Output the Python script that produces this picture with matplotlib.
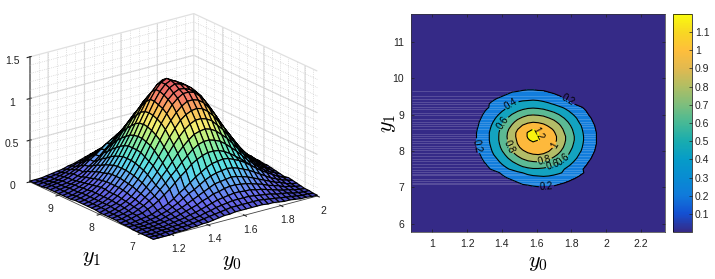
import numpy as np
import matplotlib
matplotlib.use("Agg")
import matplotlib.pyplot as plt
from matplotlib.colors import LinearSegmentedColormap, Normalize
from matplotlib.cm import ScalarMappable
from matplotlib.patches import Rectangle

plt.rcParams['font.family'] = ['Liberation Sans', 'DejaVu Sans']
plt.rcParams['mathtext.fontset'] = 'cm'

# grid values
y0_vals = [1.10, 1.13, 1.16, 1.19, 1.22, 1.25, 1.28, 1.31, 1.34, 1.37, 1.40, 1.43, 1.46, 1.49, 1.52, 1.55,
           1.58, 1.61, 1.64, 1.67, 1.70, 1.73, 1.76, 1.79, 1.82, 1.85, 1.88, 1.91, 1.94, 1.97, 2.00]
y1_vals = [6.7, 6.8, 6.9, 7.0, 7.1, 7.2, 7.3, 7.4, 7.5, 7.6, 7.7, 7.8, 7.9, 8.0, 8.1, 8.2,
           8.3, 8.4, 8.5, 8.6, 8.7, 8.8, 8.9, 9.0, 9.1, 9.2, 9.3, 9.4, 9.5, 9.6, 9.7]
density = [
    [.00,.00,.00,.00,.01,.01,.01,.02,.02,.03,.03,.04,.05,.06,.06,.07,.07,.07,.07,.07,.07,.06,.06,.05,.04,.04,.03,.02,.02,.01,.01],
    [.00,.00,.00,.01,.01,.01,.02,.02,.03,.04,.05,.06,.07,.08,.09,.10,.10,.10,.10,.10,.10,.09,.08,.07,.06,.05,.04,.03,.02,.02,.01],
    [.00,.00,.00,.01,.01,.02,.02,.03,.04,.05,.06,.08,.09,.11,.12,.13,.14,.14,.14,.14,.13,.12,.11,.10,.08,.07,.06,.04,.03,.02,.02],
    [.00,.00,.01,.01,.01,.02,.03,.04,.05,.07,.08,.10,.12,.14,.16,.17,.18,.19,.19,.18,.18,.16,.15,.13,.11,.09,.07,.06,.04,.03,.02],
    [.00,.01,.01,.01,.02,.03,.04,.05,.07,.09,.11,.13,.16,.18,.21,.22,.24,.25,.25,.24,.23,.21,.19,.17,.14,.12,.10,.07,.06,.04,.03],
    [.00,.01,.01,.02,.02,.03,.05,.07,.09,.11,.14,.17,.20,.23,.26,.29,.30,.31,.32,.31,.29,.27,.24,.21,.18,.15,.12,.10,.07,.05,.04],
    [.01,.01,.01,.02,.03,.04,.06,.08,.11,.14,.18,.22,.25,.29,.33,.36,.38,.39,.40,.39,.37,.34,.31,.27,.23,.19,.15,.12,.09,.07,.05],
    [.01,.01,.02,.03,.04,.05,.08,.10,.13,.17,.22,.26,.31,.36,.40,.44,.47,.48,.49,.48,.45,.42,.38,.33,.28,.23,.19,.15,.11,.08,.06],
    [.01,.02,.03,.05,.06,.09,.12,.16,.21,.26,.32,.38,.43,.49,.53,.56,.58,.58,.57,.54,.50,.45,.40,.34,.28,.23,.18,.14,.10,.07,.05],
    [.02,.02,.04,.05,.08,.11,.15,.19,.25,.31,.38,.44,.51,.57,.63,.67,.69,.69,.67,.64,.59,.53,.47,.40,.33,.27,.21,.16,.12,.09,.06],
    [.02,.03,.04,.06,.09,.12,.17,.22,.28,.36,.43,.51,.59,.66,.72,.77,.79,.80,.78,.74,.68,.62,.54,.46,.38,.31,.24,.18,.14,.10,.07],
    [.02,.03,.05,.07,.10,.14,.19,.25,.32,.40,.49,.58,.67,.75,.82,.87,.90,.90,.88,.84,.77,.70,.61,.52,.43,.35,.27,.21,.15,.11,.08],
    [.02,.03,.05,.08,.11,.15,.21,.28,.36,.45,.54,.64,.74,.83,.91,.96,.99,1.00,.98,.93,.86,.77,.68,.58,.48,.38,.30,.23,.17,.12,.09],
    [.02,.04,.06,.08,.12,.17,.23,.30,.39,.48,.59,.70,.81,.90,.98,1.04,1.08,1.08,1.06,1.01,.93,.84,.73,.62,.52,.42,.33,.25,.19,.13,.09],
    [.03,.04,.06,.09,.13,.18,.24,.32,.41,.51,.63,.74,.86,.96,1.05,1.11,1.15,1.15,1.13,1.07,.99,.89,.78,.66,.55,.44,.35,.27,.20,.14,.10],
    [.03,.04,.06,.09,.13,.19,.25,.33,.43,.54,.65,.77,.89,1.00,1.09,1.15,1.18,1.17,1.14,1.10,1.03,.93,.81,.69,.57,.46,.36,.28,.21,.15,.10],
    [.03,.04,.06,.09,.13,.19,.26,.34,.44,.55,.67,.79,.91,1.02,1.12,1.19,1.22,1.20,1.17,1.12,1.05,.95,.83,.71,.59,.47,.37,.28,.21,.15,.11],
    [.03,.04,.06,.09,.14,.19,.26,.34,.44,.55,.67,.80,.92,1.04,1.14,1.21,1.24,1.21,1.17,1.12,1.05,.95,.83,.71,.59,.47,.37,.28,.21,.15,.11],
    [.03,.04,.06,.09,.14,.19,.26,.34,.44,.55,.66,.79,.91,1.04,1.14,1.21,1.24,1.20,1.15,1.09,1.02,.92,.80,.69,.57,.46,.36,.28,.21,.15,.10],
    [.03,.04,.06,.09,.13,.18,.25,.33,.42,.53,.64,.76,.88,.99,1.09,1.16,1.20,1.16,1.11,1.05,.98,.88,.77,.66,.55,.44,.35,.27,.20,.14,.10],
    [.02,.04,.06,.08,.12,.17,.23,.31,.40,.50,.60,.71,.82,.92,1.01,1.06,1.09,1.07,1.04,.98,.92,.83,.72,.62,.52,.42,.33,.25,.19,.13,.09],
    [.02,.03,.05,.08,.11,.16,.22,.29,.37,.46,.56,.66,.76,.85,.93,.97,.99,.98,.95,.90,.84,.76,.67,.57,.47,.38,.30,.23,.17,.12,.09],
    [.02,.03,.05,.07,.10,.14,.20,.26,.33,.42,.51,.60,.69,.77,.83,.88,.90,.89,.86,.81,.76,.68,.60,.51,.43,.35,.27,.21,.15,.11,.08],
    [.02,.03,.05,.07,.09,.13,.18,.24,.30,.37,.45,.53,.61,.68,.74,.78,.79,.78,.76,.71,.66,.60,.53,.45,.38,.31,.24,.18,.14,.10,.07],
    [.02,.03,.04,.06,.08,.11,.16,.21,.26,.33,.39,.46,.53,.59,.64,.67,.68,.67,.65,.61,.57,.52,.46,.39,.33,.26,.21,.16,.12,.09,.06],
    [.02,.03,.04,.05,.07,.10,.13,.18,.22,.27,.33,.39,.45,.50,.54,.57,.58,.57,.55,.52,.48,.43,.38,.33,.28,.22,.18,.14,.10,.07,.05],
    [.02,.03,.04,.05,.07,.10,.13,.17,.22,.26,.31,.36,.40,.44,.47,.48,.49,.48,.45,.42,.38,.33,.28,.23,.19,.15,.11,.08,.06,.04,.03],
    [.01,.02,.03,.04,.06,.08,.11,.14,.18,.22,.25,.29,.33,.36,.38,.39,.40,.39,.37,.34,.31,.27,.23,.19,.15,.12,.09,.07,.05,.03,.02],
    [.01,.02,.02,.03,.05,.07,.09,.11,.14,.17,.20,.23,.26,.29,.30,.31,.32,.31,.29,.27,.24,.21,.18,.15,.12,.10,.07,.05,.04,.03,.02],
    [.01,.01,.02,.03,.04,.05,.07,.09,.11,.13,.16,.18,.21,.22,.24,.25,.25,.24,.23,.21,.19,.17,.14,.12,.10,.07,.06,.04,.03,.02,.01],
    [.01,.01,.01,.02,.03,.04,.05,.07,.08,.10,.12,.14,.16,.17,.18,.19,.19,.18,.18,.16,.15,.13,.11,.09,.07,.06,.04,.03,.02,.02,.01],
]

contour_levels = [0.2, 0.4, 0.6, 0.8, 1.0, 1.2]
band_colors = ['#352a87', '#127ddc', '#13a3c0', '#5cba94', '#b4bd68', '#fdb93c', '#f9f30e']
parula_colors = ['#352a87', '#1450d2', '#107adb', '#088cd2', '#069cc8', '#19acaf', '#46b996', '#7dbe7d',
                 '#afbe64', '#e1b950', '#febe3c', '#f8d723', '#f9fb0e']
# washed out jet as it looks on the surface, bottom to top
surface_colors = ['#4040b0', '#6a6aee', '#68a8f4', '#5adcec', '#68e8c0', '#a8f088', '#f4f070', '#fac45a', '#f68068', '#e65a64']
cbar_ticks = [0.1, 0.2, 0.3, 0.4, 0.5, 0.6, 0.7, 0.8, 0.9, 1.0, 1.1]
cbar_labels = ['0.1', '0.2', '0.3', '0.4', '0.5', '0.6', '0.7', '0.8', '0.9', '1', '1.1']
# pale horizontal scan lines left in the filled map
stripe_y1 = [7.08, 7.13, 7.18, 7.24, 7.33, 7.38, 7.43, 7.48, 7.56, 7.63, 7.72, 7.78, 7.87, 7.95, 8.02, 8.07,
             8.14, 8.21, 8.28, 8.36, 8.41, 8.46, 8.60, 8.68, 8.74, 8.79, 8.88, 8.98, 9.05, 9.15, 9.22, 9.29,
             9.35, 9.42, 9.50, 9.64]
label_spots = [(1.787, 9.42), (1.26, 8.14), (1.658, 7.0), (1.466, 9.22), (1.764, 7.68), (1.41, 8.76),
               (1.697, 7.6), (1.447, 8.12), (1.645, 7.75), (1.69, 8.2), (1.607, 8.48)]

Y0, Y1 = np.meshgrid(y0_vals, y1_vals)
Z = np.array(density)

fig = plt.figure(figsize=(7.15, 2.79), dpi=100)

# left panel
ax = fig.add_axes([-0.018, -0.013, 0.51, 1.09], projection='3d', computed_zorder=False)
ax.set_proj_type('ortho')
ax.view_init(elev=20.5, azim=-127)
ax.set_box_aspect((1, 1, 0.65), zoom=1.02)
ax.set_xlim(1.1, 2.0, view_margin=0)
ax.set_ylim(6.7, 9.7, view_margin=0)
ax.set_zlim(0, 1.5, view_margin=0)
ax.patch.set_alpha(0)
for a in (ax.xaxis, ax.yaxis, ax.zaxis):
    a.set_pane_color((1, 1, 1, 0))
    a._axinfo['grid'].update(color='#e0e0e0', linewidth=0.9)
    a.line.set_color('#444444')
    a.line.set_linewidth(0.6)
ax.zaxis.line.set_linewidth(1.3)
ax.zaxis.line.set_color('#777777')
ax.set_xticks([1.2, 1.4, 1.6, 1.8, 2.0])
ax.set_xticklabels(['1.2', '1.4', '1.6', '1.8', '2'])
ax.set_yticks([7, 8, 9])
ax.set_yticklabels(['7', '8', '9'])
ax.set_zticks([0, 0.5, 1, 1.5])
ax.set_zticklabels(['0', '0.5', '1', '1.5'])
ax.tick_params(labelsize=7.5, pad=-2, colors='#222222')
ax.tick_params(axis='z', pad=-1)

# minor dotted grid on the back walls
for v in np.arange(1.15, 2.0, 0.05):
    ax.plot([v, v], [9.7, 9.7], [0, 1.5], ls=':', color='#c8c8c8', lw=0.5, zorder=1)
for v in np.arange(6.8, 9.7, 0.2):
    ax.plot([2.0, 2.0], [v, v], [0, 1.5], ls=':', color='#c8c8c8', lw=0.5, zorder=1)
for v in np.arange(0.1, 1.5, 0.1):
    ax.plot([1.1, 2.0], [9.7, 9.7], [v, v], ls=':', color='#c8c8c8', lw=0.5, zorder=1)
    ax.plot([2.0, 2.0], [6.7, 9.7], [v, v], ls=':', color='#c8c8c8', lw=0.5, zorder=1)

ax.plot_surface(Y0, Y1, Z, cmap=LinearSegmentedColormap.from_list('pale_jet', surface_colors), vmin=0, vmax=1.24,
                shade=False, rstride=1, cstride=1, edgecolor='black', linewidth=0.85, zorder=3)

fig.text(92 / 715, 1 - 258 / 279, '$y_1$', fontsize=16, ha='center', va='center')
fig.text(232 / 715, 1 - 262 / 279, '$y_0$', fontsize=16, ha='center', va='center')

# right panel
pad_y0 = [0.877] + y0_vals + [2.34]
pad_y1 = [5.77] + y1_vals + [11.77]
Z_pad = np.pad(Z, 1)
fills = [0] + contour_levels + [1.3]

ax2 = fig.add_axes([411 / 715, 1 - 232 / 279, 254 / 715, 218 / 279])
ax2.contourf(pad_y0, pad_y1, Z_pad, levels=fills, colors=band_colors, zorder=1)
ax2.hlines(stripe_y1, 0.885, 1.95, color='white', alpha=0.2, lw=0.6, zorder=1.1)
ax2.contourf(pad_y0, pad_y1, Z_pad, levels=fills[2:], colors=band_colors[2:], zorder=1.2)
cover = ax2.contourf(pad_y0, pad_y1, Z_pad, levels=fills[:2], colors=band_colors[:1], zorder=1.2)
cover.set_clip_path(Rectangle((1.6, 5.77), 0.74, 6.0, transform=ax2.transData))
lines = ax2.contour(pad_y0, pad_y1, Z_pad, levels=contour_levels, colors='black', linewidths=0.8, zorder=2)
ax2.clabel(lines, fontsize=7, fmt='%.3g', manual=label_spots, inline_spacing=1)
ax2.set_xlim(0.877, 2.34)
ax2.set_ylim(5.77, 11.77)
ax2.set_xticks([1, 1.2, 1.4, 1.6, 1.8, 2, 2.2])
ax2.set_xticklabels(['1', '1.2', '1.4', '1.6', '1.8', '2', '2.2'])
ax2.set_yticks([6, 7, 8, 9, 10, 11])
ax2.tick_params(direction='in', top=True, right=True, length=2, width=0.5, labelsize=7.5, pad=5, colors='#222222')
for s in ax2.spines.values():
    s.set_linewidth(0.5)
    s.set_color('#333333')
ax2.set_xlabel('$y_0$', fontsize=16, labelpad=2)
ax2.set_ylabel('$y_1$', fontsize=16, labelpad=-4)

# colorbar
cax = fig.add_axes([673 / 715, 1 - 232 / 279, 19 / 715, 218 / 279])
cb = fig.colorbar(ScalarMappable(Normalize(0, 1.2), LinearSegmentedColormap.from_list('parula', parula_colors)), cax=cax)
cb.set_ticks(cbar_ticks)
cb.set_ticklabels(cbar_labels)
cb.ax.tick_params(direction='in', length=2, width=0.5, labelsize=7.5, pad=2, colors='#222222')
cb.outline.set_linewidth(0.5)

fig.savefig('out.png', dpi=100)
